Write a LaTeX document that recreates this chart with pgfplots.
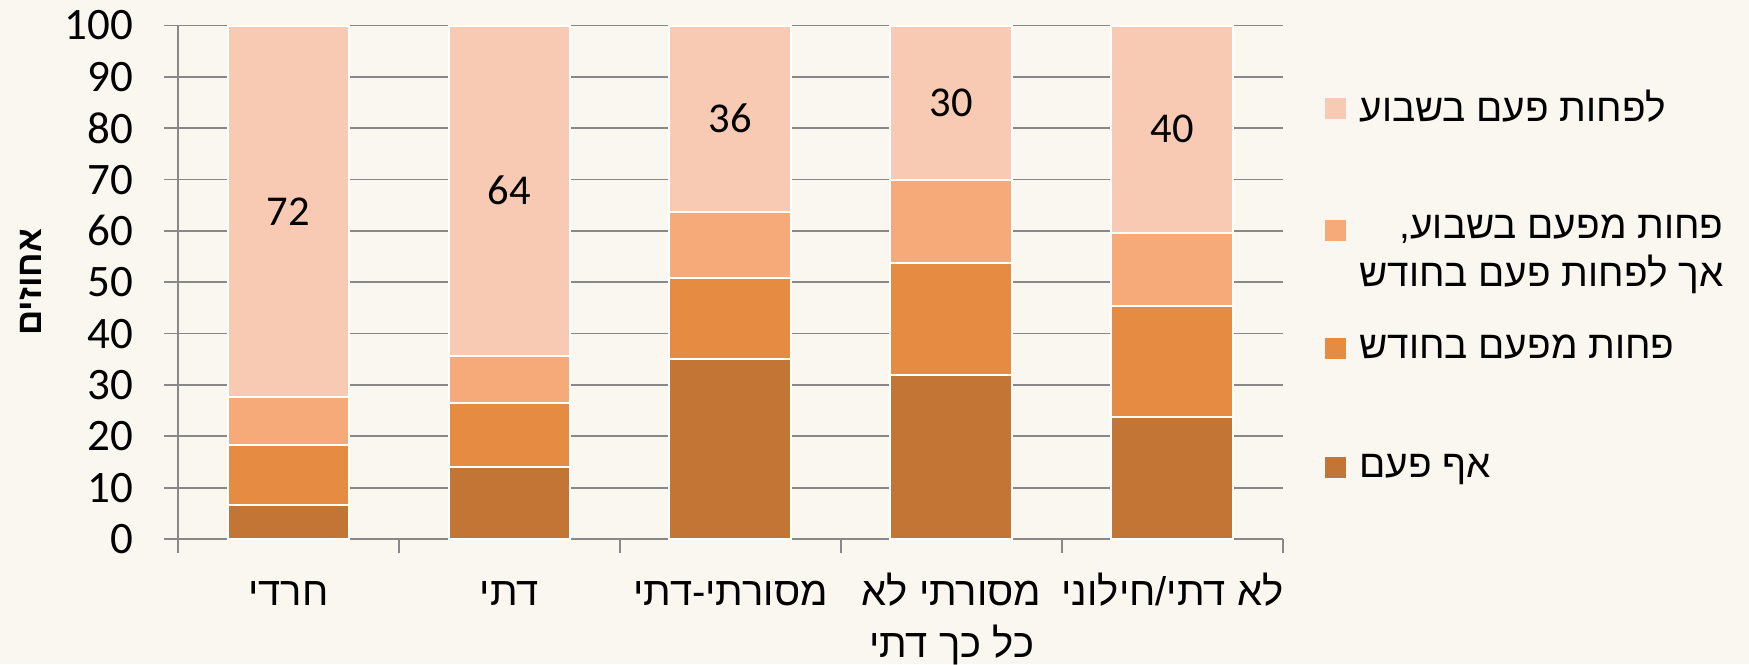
\documentclass[border=0pt]{standalone}
\usepackage{fontspec}
\usepackage{pgfplots}
\usepackage{pgfplotstable}
\pgfplotsset{compat=1.18}
\TeXXeTstate=1
\newfontfamily\hebfont[Script=Hebrew]{Liberation Sans}
\newfontfamily\numfont{Carlito}
\newcommand{\lgs}{\rule[-4pt]{0pt}{12.4pt}}
\definecolor{bg}{HTML}{F9F7F0}
\definecolor{cA}{HTML}{C27535}
\definecolor{cB}{HTML}{E68C42}
\definecolor{cC}{HTML}{F6AA7A}
\definecolor{cD}{HTML}{F8CAB3}
\definecolor{gridc}{HTML}{888888}

\pgfplotstableread{
x a b c d
0 6.7 11.7 9.2 72.4
1 14.0 12.4 9.3 64.3
2 35.0 15.9 12.8 36.3
3 32.0 21.7 16.3 30.0
4 23.7 21.7 14.2 40.4
}\datatable

\begin{document}
\begin{tikzpicture}
\fill[bg] (0,0) rectangle (699.6pt,265.6pt);
\begin{axis}[
  at={(71.2pt,50pt)}, anchor=south west,
  scale only axis, width=442pt, height=205.4pt,
  ybar stacked, bar width=0.552,
  xmin=-0.5, xmax=4.5, ymin=0, ymax=100,
  enlargelimits=false,
  axis x line*=bottom, axis y line*=left,
  axis line style={gridc, line width=0.7pt},
  tick style={gridc, line width=0.7pt},
  major tick length=5.4pt,
  tick align=outside,
  ytick={0,10,...,100},
  ymajorgrids, grid style={gridc, line width=0.7pt},
  xtick={-0.5,0.5,...,4.5},
  x tick label as interval,
  xticklabels={{\hebfont\beginR חרדי\endR}, {\hebfont\beginR דתי\endR}, {\hebfont\beginR מסורתי-דתי\endR}, {\begin{tabular}[t]{@{}c@{}}{\hebfont\beginR מסורתי לא\endR}\\{\hebfont\beginR כל כך דתי\endR}\end{tabular}}, {\hebfont\beginR לא דתי/חילוני\endR}},
  xticklabel style={font=\hebfont\fontsize{16}{21}\selectfont, anchor=base, inner sep=0pt, yshift=-21pt},
  /pgf/number format/assume math mode=true,
  yticklabel style={font=\numfont\fontsize{18}{20}\selectfont, anchor=east, inner sep=0pt, xshift=-12.4pt},
  ylabel={{\hebfont\beginR אחוזים\endR}},
  ylabel style={at={(axis description cs:-0.1335,0.5)}, anchor=center, font=\fontsize{14}{16}\selectfont\bfseries},
  legend style={at={(axis description cs:1.038,0.8745)}, anchor=north west, draw=none, fill=none, inner sep=0pt, row sep=36.8pt, column sep=5.2pt, nodes={inner sep=0pt}, font=\hebfont\fontsize{15.5}{19.2}\selectfont},
  legend cell align=left,
  reverse legend,
  legend image code/.code={\fill[#1, draw=none] (0pt,-4.2pt) rectangle (8.4pt,4.2pt);},
]
\addplot[fill=cA, draw=white, line width=0.8pt] table[x=x, y=a] {\datatable};
\addlegendentry{\lgs{\hebfont\beginR אף פעם\endR}}
\addplot[fill=cB, draw=white, line width=0.8pt] table[x=x, y=b] {\datatable};
\addlegendentry{\lgs{\hebfont\beginR פחות מפעם בחודש\endR}}
\addplot[fill=cC, draw=white, line width=0.8pt] table[x=x, y=c] {\datatable};
\addlegendentry{\lgs\smash{\begin{tabular}[t]{@{}r@{}}{\hebfont\beginR פחות מפעם בשבוע,\endR}\\{\hebfont\beginR אך לפחות פעם בחודש\endR}\end{tabular}}}
\addplot[fill=cD, draw=white, line width=0.8pt,
  nodes near coords={\pgfmathprintnumber[fixed,precision=0]{\pgfplotspointmeta}},
  point meta=explicit,
  every node near coord/.append style={anchor=center, font=\numfont\fontsize{17}{20}\selectfont, text=black},
] table[x=x, y=d, meta=d] {\datatable};
\addlegendentry{\lgs{\hebfont\beginR לפחות פעם בשבוע\endR}}
\end{axis}
\pgfresetboundingbox
\path[use as bounding box] (0,0) rectangle (699.6pt,265.6pt);
\end{tikzpicture}
\end{document}
